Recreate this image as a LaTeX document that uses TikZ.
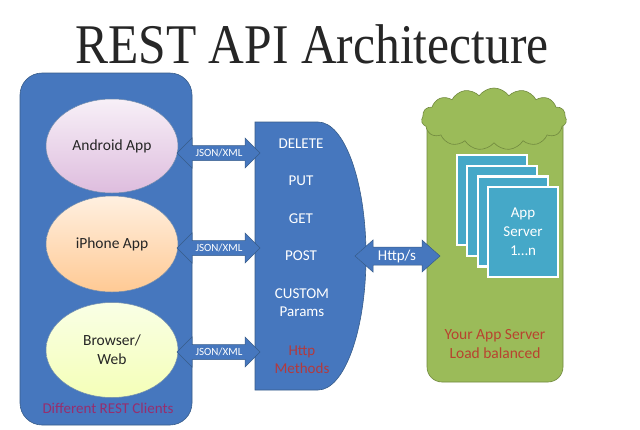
\documentclass[tikz,border=0pt]{standalone}
\usepackage{fontspec}
\setmainfont{Carlito}
\newfontfamily\titlefont{Liberation Serif}
\usetikzlibrary{shapes.geometric,shapes.symbols}
\definecolor{restblue}{HTML}{4677BE}
\definecolor{restblueline}{HTML}{385D8A}
\definecolor{restgreen}{HTML}{9BBB59}
\definecolor{restgreenline}{HTML}{71893F}
\definecolor{cardblue}{HTML}{45A8C8}
\definecolor{methodred}{HTML}{B23A3E}
\definecolor{clientpink}{HTML}{962E6E}
\definecolor{serverred}{HTML}{B8432F}
\tikzset{
  panel/.style={fill=restblue, draw=restblueline, line width=0.6pt, rounded corners=22pt},
  client/.style={ellipse, draw=restblueline!70, line width=0.5pt, minimum width=132pt,
    align=center, font=\fontsize{15.5}{19}\selectfont, text=black!85},
  method/.style={text=white, align=center, font=\fontsize{15}{18}\selectfont},
  arrowtext/.style={text=white, inner sep=0pt, font=\fontsize{11}{13}\selectfont},
  card/.style={fill=cardblue, draw=white, line width=2.2pt},
  % block double arrow: half length, half shaft, half head, head length
  pics/blockarrow/.style n args={4}{code={
    \draw[fill=restblue, draw=restblueline, line width=0.5pt]
      (-#1,0) -- ({-#1+#4},{-#3}) -- ({-#1+#4},{-#2}) -- ({#1-#4},{-#2}) -- ({#1-#4},{-#3})
      -- (#1,0) -- ({#1-#4},{#3}) -- ({#1-#4},{#2}) -- ({-#1+#4},{#2}) -- ({-#1+#4},{#3}) -- cycle;
  }}
}
\begin{document}
\begin{tikzpicture}[x=1pt, y=-1pt]
  \useasboundingbox[fill=white] (0,0) rectangle (640,429);
  % title
  \node[text=black!85, font={\titlefont\fontsize{56}{60}\selectfont}, xscale=0.885,
    transform shape, anchor=base] (title) at (312,63) {REST API Architecture};
  % clients
  \node[panel, minimum width=172pt, minimum height=352pt] (clients) at (106,249) {};
  \node[client, minimum height=94pt, top color=violet!6, bottom color=violet!26] (android) at (112,146) {Android App};
  \node[client, minimum height=96pt, top color=orange!12, bottom color=orange!42] (iphone) at (112,244) {iPhone App};
  \node[client, minimum height=95pt, top color=yellow!15!lime!10, bottom color=yellow!40!lime!28] (browser) at (112,350) {Browser/\\Web};
  \node[text=clientpink, font=\fontsize{15}{18}\selectfont] (clientlabel) at (108,408) {Different REST Clients};
  % http methods
  \draw[fill=restblue, draw=restblueline, line width=0.6pt] (255,122) -- (318,122)
    .. controls (344.5,122) and (366,182) .. (366,256)
    .. controls (366,330) and (344.5,390) .. (318,390) -- (255,390) -- cycle;
  \node[method] (delete) at (301,144) {DELETE};
  \node[method] (put) at (301,181) {PUT};
  \node[method] (get) at (301,219) {GET};
  \node[method] (post) at (301,256) {POST};
  \node[method] (custom) at (302,303) {CUSTOM\\Params};
  \node[method, text=methodred] (httpmethods) at (302,360) {Http\\Methods};
  % json arrows
  \pic at (218.5,153) {blockarrow={41.5}{7.5}{15}{15}};
  \pic at (218.5,248) {blockarrow={41.5}{7.5}{15}{15}};
  \pic at (218.5,352) {blockarrow={41.5}{7.5}{15}{15}};
  \node[arrowtext] (json1) at (219,153) {JSON/XML};
  \node[arrowtext] (json2) at (219,248) {JSON/XML};
  \node[arrowtext] (json3) at (219,352) {JSON/XML};
  % app server
  \draw[fill=restgreen, draw=restgreenline, line width=0.6pt, rounded corners=15pt] (427,105) rectangle (563,382);
  \node[cloud, cloud puffs=15, cloud puff arc=110, aspect=2.4, fill=restgreen, draw=restgreenline,
    line width=0.6pt, minimum width=145pt, minimum height=62pt, inner sep=0pt] (cloud) at (494,119) {};
  \foreach \i in {0,...,3}
    \draw[card] ({457+10.3*\i},{155+10.7*\i}) rectangle ++(70,90);
  \node[method, font=\fontsize{15}{19}\selectfont] (appserver) at (523,232) {App\\Server\\1…n};
  \node[text=serverred, align=center, font=\fontsize{15.5}{19}\selectfont] (serverlabel) at (495,344) {Your App Server\\Load balanced};
  % http/s
  \pic at (397.5,256) {blockarrow={42.5}{9}{16}{18}};
  \node[arrowtext, font=\fontsize{15}{18}\selectfont] (https) at (397,256) {Http/s};
\end{tikzpicture}
\end{document}
